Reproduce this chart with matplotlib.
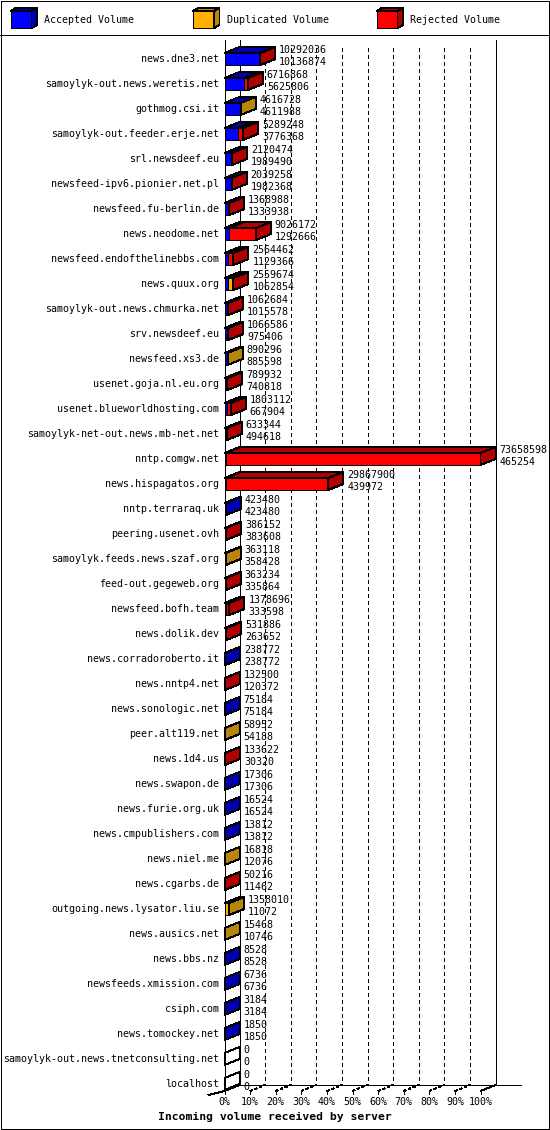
import matplotlib
matplotlib.use("Agg")
import matplotlib.pyplot as plt
from matplotlib.patches import Polygon, Rectangle

# ---- data ----
servers = [
    "news.dne3.net", "samoylyk-out.news.weretis.net", "gothmog.csi.it",
    "samoylyk-out.feeder.erje.net", "srl.newsdeef.eu", "newsfeed-ipv6.pionier.net.pl",
    "newsfeed.fu-berlin.de", "news.neodome.net", "newsfeed.endofthelinebbs.com",
    "news.quux.org", "samoylyk-out.news.chmurka.net", "srv.newsdeef.eu",
    "newsfeed.xs3.de", "usenet.goja.nl.eu.org", "usenet.blueworldhosting.com",
    "samoylyk-net-out.news.mb-net.net", "nntp.comgw.net", "news.hispagatos.org",
    "nntp.terraraq.uk", "peering.usenet.ovh", "samoylyk.feeds.news.szaf.org",
    "feed-out.gegeweb.org", "newsfeed.bofh.team", "news.dolik.dev",
    "news.corradoroberto.it", "news.nntp4.net", "news.sonologic.net",
    "peer.alt119.net", "news.1d4.us", "news.swapon.de", "news.furie.org.uk",
    "news.cmpublishers.com", "news.niel.me", "news.cgarbs.de",
    "outgoing.news.lysator.liu.se", "news.ausics.net", "news.bbs.nz",
    "newsfeeds.xmission.com", "csiph.com", "news.tomockey.net",
    "samoylyk-out.news.tnetconsulting.net", "localhost",
]
total = [
    10292036, 6716868, 4616728, 5289248, 2120474, 2039258, 1368988, 9026172,
    2564462, 2559674, 1062684, 1066586, 890296, 789932, 1803112, 633344,
    73658598, 29867900, 423480, 386152, 363118, 363234, 1378696, 531886,
    238772, 132500, 75184, 58952, 133622, 17306, 16524, 13812, 16818, 50216,
    1358010, 15468, 8528, 6736, 3184, 1850, 0, 0,
]
accepted = [
    10136874, 5625806, 4611988, 3776368, 1989490, 1982368, 1333938, 1292666,
    1129366, 1062854, 1015578, 975406, 885598, 740818, 667904, 494618,
    465254, 439972, 423480, 383608, 358428, 335864, 333598, 263652,
    238772, 120372, 75184, 54188, 30320, 17306, 16524, 13812, 12076, 11462,
    11072, 10746, 8528, 6736, 3184, 1850, 0, 0,
]
duplicated = [
    0, 0, 4740, 0, 0, 0, 0, 0,
    0, 1100000, 0, 0, 4698, 0, 0, 0,
    0, 0, 0, 0, 4690, 0, 0, 0,
    0, 0, 0, 4764, 0, 0, 0, 0, 4742, 0,
    1346938, 4722, 0, 0, 0, 0, 0, 0,
]
rejected = [t - a - d for t, a, d in zip(total, accepted, duplicated)]

legend_labels = ["Accepted Volume", "Duplicated Volume", "Rejected Volume"]
ticks = list(range(0, 101, 10))
tick_labels = ["%d%%" % t for t in ticks]
title = "Incoming volume received by server"

# colours (front, dark for top/side)
front_col = ["#0000ff", "#ffb000", "#ff0000"]
dark_col = ["#0000b0", "#b8860b", "#b00000"]

FONT = "DejaVu Sans Mono"
FS = 7.2

W, H = 550, 1130
fig = plt.figure(figsize=(W / 100, H / 100), dpi=100)

# chart axes: x in percent of the biggest total, y in rows
x0px, pxpct = 224.5, 2.56
y0px, pxrow = 59.0, 25.0
ax = fig.add_axes([0, 0, 1, 1])
ax.set_xlim(-x0px / pxpct, (W - x0px) / pxpct)
ax.set_ylim((H - y0px) / pxrow, -y0px / pxrow)
ax.axis("off")

DX = 15 / pxpct
DY = 6 / pxrow
HALF = 6 / pxrow
lw = 0.72

n = len(servers)
wall_top = -19 / pxrow
floor_front = n - 1 + 7 / pxrow
floor_back = floor_front - DY

def line(xs, ys, **kw):
    kw.setdefault("color", "black")
    kw.setdefault("lw", lw)
    ax.plot(xs, ys, antialiased=False, solid_capstyle="butt", **kw)

# back wall grid
for t in ticks[1:-1]:
    line([t + DX, t + DX], [wall_top + 0.3, floor_back], dashes=(4, 4))
line([DX, DX], [wall_top, floor_back])
line([100 + DX, 100 + DX], [wall_top, floor_back])
line([0, 0], [wall_top, floor_front])
# floor
line([DX, 100 + DX + 10], [floor_back, floor_back])
line([-6.4, 0, DX], [floor_front + 4 / pxrow, floor_front, floor_back])
line([100, 100 + DX], [floor_front, floor_back])
for t, lab in zip(ticks, tick_labels):
    line([t, t], [floor_front - 1 / pxrow, floor_front + 3 / pxrow])
    if 0 < t < 100:
        line([t, t + DX], [floor_front, floor_back], dashes=(2.5, 2.5))
    ax.text(t, floor_front + 11 / pxrow, lab, ha="center", va="center",
            family=FONT, fontsize=FS)

maxv = max(total)
for i in range(n):
    vals = [accepted[i], duplicated[i], rejected[i]]
    left = 0.0
    last = None
    yt, yb = i - HALF, i + HALF
    for k, v in enumerate(vals):
        if v <= 0:
            continue
        w = v / maxv * 100
        ax.add_patch(Rectangle((left, yt), w, yb - yt, facecolor=front_col[k],
                               edgecolor="black", lw=lw, antialiased=False, zorder=3))
        ax.add_patch(Polygon([(left, yt), (left + w, yt), (left + w + DX, yt - DY),
                              (left + DX, yt - DY)], closed=True, facecolor=dark_col[k],
                             edgecolor="black", lw=lw, antialiased=False, zorder=3))
        left += w
        last = k
    side_fc = dark_col[last] if last is not None else "none"
    ax.add_patch(Polygon([(left, yt), (left, yb), (left + DX, yb - DY),
                          (left + DX, yt - DY)], closed=True, facecolor=side_fc,
                         edgecolor="black", lw=lw, antialiased=False, zorder=3))
    tx = left + DX + 4 / pxpct
    ax.text(tx, i - 8.7 / pxrow, str(total[i]), ha="left", va="center",
            family=FONT, fontsize=FS, zorder=4)
    ax.text(tx, i + 2.7 / pxrow, str(accepted[i]), ha="left", va="center",
            family=FONT, fontsize=FS, zorder=4)
    ax.text((219 - x0px) / pxpct, i, servers[i], ha="right", va="center",
            family=FONT, fontsize=FS)

# frame, legend and title in pixel coordinates
fr = fig.add_axes([0, 0, 1, 1], facecolor="none")
fr.set_xlim(0, W)
fr.set_ylim(H, 0)
fr.axis("off")
fr.add_patch(Rectangle((0.5, 0.5), W - 1.5, H - 1.5, fill=False, edgecolor="black",
                       lw=lw, antialiased=False))
fr.plot([0, W], [35, 35], color="black", lw=lw, antialiased=False)

leg_x = [10.5, 193, 376.5]
for k, lab in enumerate(legend_labels):
    x = leg_x[k]
    bw, bh, ddx, ddy = 21, 17, 5.5, 3
    fr.add_patch(Rectangle((x, 11), bw, bh, facecolor=front_col[k], edgecolor="black",
                           lw=lw, antialiased=False))
    fr.add_patch(Polygon([(x, 11), (x + bw, 11), (x + bw + ddx, 11 - ddy), (x + ddx, 11 - ddy)],
                         closed=True, facecolor=dark_col[k], edgecolor="black", lw=lw,
                         antialiased=False))
    fr.add_patch(Polygon([(x + bw, 11), (x + bw, 11 + bh), (x + bw + ddx, 11 + bh - ddy),
                          (x + bw + ddx, 11 - ddy)], closed=True, facecolor=dark_col[k],
                         edgecolor="black", lw=lw, antialiased=False))
    fr.text(x + 34, 20, lab, ha="left", va="center", family=FONT, fontsize=FS)

fr.text(W / 2, 1117, title, ha="center", va="center", family=FONT, fontsize=8.2,
        fontweight="bold")

fig.savefig("out.png", dpi=100, facecolor="white")
